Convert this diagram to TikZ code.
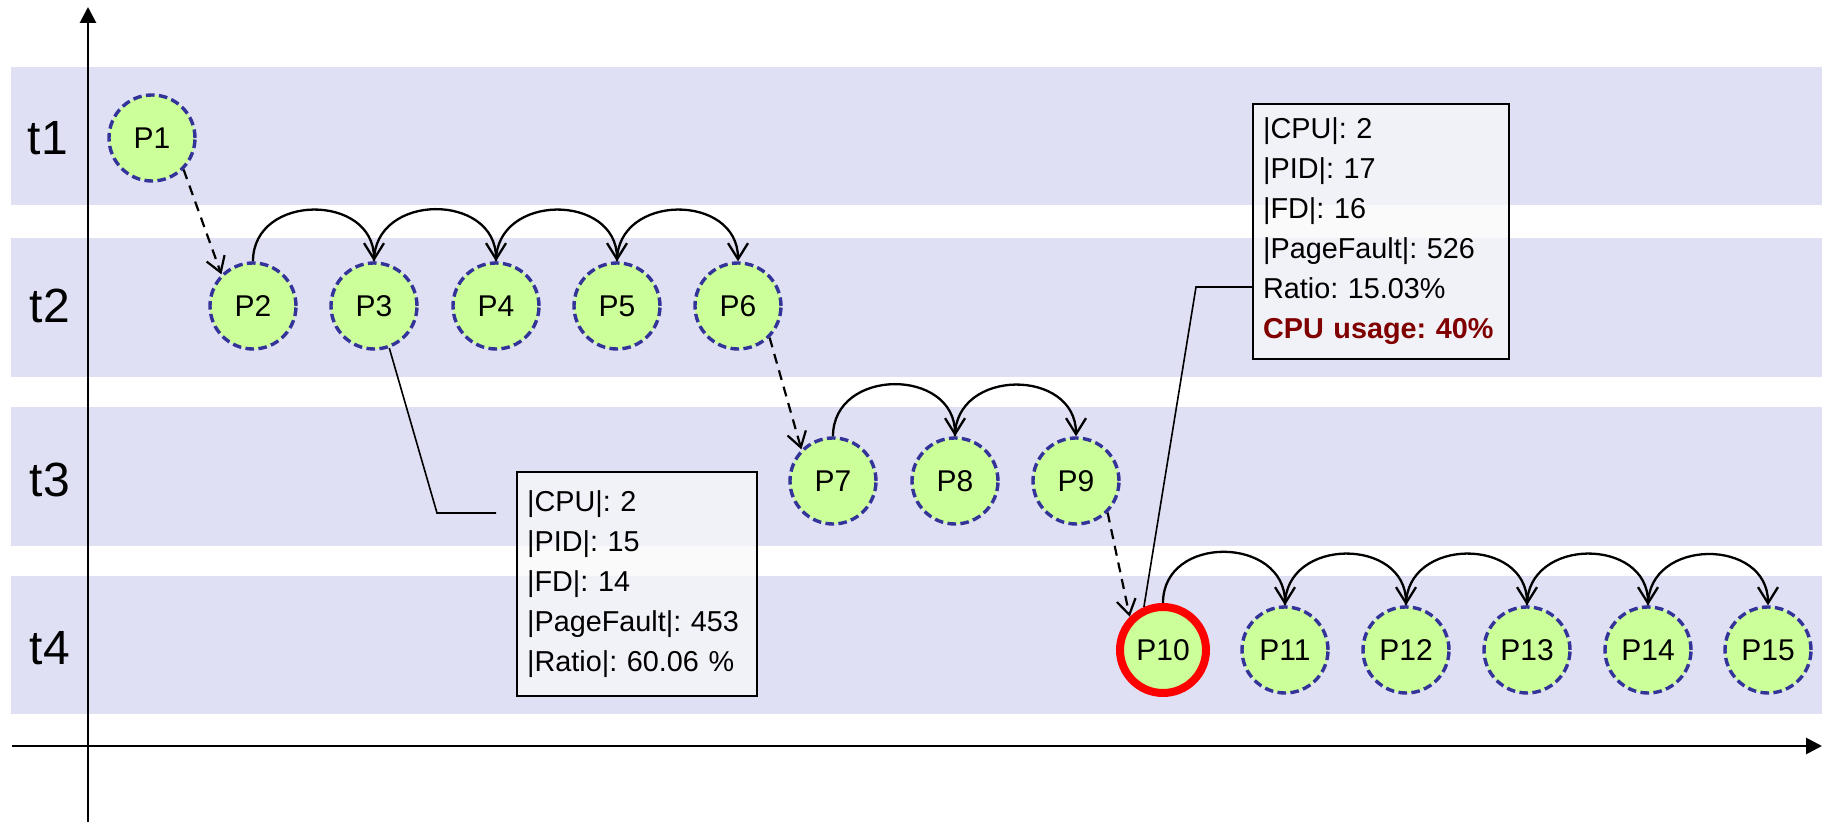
\documentclass[tikz,border=0pt]{standalone}
\usepackage{fontspec}
\setmainfont{Liberation Sans}
\usetikzlibrary{arrows.meta}
\frenchspacing

\definecolor{bandcol}{RGB}{223,224,244}
\definecolor{procfill}{RGB}{204,255,153}
\definecolor{procedge}{RGB}{51,51,153}
\definecolor{notefill}{RGB}{248,248,250}
\definecolor{alertred}{RGB}{128,0,0}

\begin{document}
\begin{tikzpicture}[x=0.5pt,y=0.5pt,
  proc/.style={circle, draw=procedge, fill=procfill, line width=1.7pt,
    dash pattern=on 4.3pt off 2.2pt, minimum size=43pt, inner sep=0pt,
    font=\fontsize{15}{18}\selectfont},
  hotproc/.style={circle, draw=red, fill=procfill, line width=4pt,
    minimum size=43pt, inner sep=0pt, font=\fontsize{15}{18}\selectfont},
  timelabel/.style={font=\fontsize{24}{28}\selectfont, inner sep=0pt},
  hop/.style={-{Straight Barb[length=8pt,width=10pt]}, line width=1.15pt,
    out=90, in=90, looseness=1.45},
  jump/.style={-{Straight Barb[length=7.5pt,width=9.5pt]}, line width=1.1pt,
    dash pattern=on 5pt off 3.5pt},
  callout/.style={line width=0.8pt},
  note/.style={rectangle, draw=black, line width=1.1pt, fill=notefill,
    fill opacity=0.75, text opacity=1, align=left, inner xsep=5pt,
    inner ysep=0pt, anchor=north west, font=\fontsize{14.4}{20}\selectfont},
  axis/.style={line width=1.4pt, -{Triangle[length=8pt,width=8pt]}}
]
\useasboundingbox (0,0) rectangle (1822,-822);

% time bands
\fill[bandcol] (11,-67)  rectangle (1822,-205);
\fill[bandcol] (11,-238) rectangle (1822,-377);
\fill[bandcol] (11,-407) rectangle (1822,-546);
\fill[bandcol] (11,-576) rectangle (1822,-714);

% axes
\coordinate (ybot) at (88,-822);
\coordinate (ytop) at (88,-7);
\coordinate (xleft) at (12,-746);
\coordinate (xright) at (1822,-746);
\draw[axis] (ybot) -- (ytop);
\draw[axis] (xleft) -- (xright);

% time labels
\node[timelabel] (t1) at (48,-138) {t1};
\node[timelabel] (t2) at (50,-306) {t2};
\node[timelabel] (t3) at (50,-480) {t3};
\node[timelabel] (t4) at (50,-648) {t4};

% processes
\node[proc] (P1) at (152,-138) {P1};

\node[proc] (P2) at (253,-306) {P2};
\node[proc] (P3) at (374,-306) {P3};
\node[proc] (P4) at (496,-306) {P4};
\node[proc] (P5) at (617,-306) {P5};
\node[proc] (P6) at (738,-306) {P6};

\node[proc] (P7) at (833,-481) {P7};
\node[proc] (P8) at (955,-481) {P8};
\node[proc] (P9) at (1076,-481) {P9};

\node[hotproc] (P10) at (1163,-650) {P10};
\node[proc] (P11) at (1285,-650) {P11};
\node[proc] (P12) at (1406,-650) {P12};
\node[proc] (P13) at (1527,-650) {P13};
\node[proc] (P14) at (1648,-650) {P14};
\node[proc] (P15) at (1768,-650) {P15};

% transitions between time slots
\draw[jump] (P1.south east) -- (P2.north west);
\draw[jump] (P6.south east) -- (P7.north west);
\draw[jump] (P9.south east) -- (P10.north west);

% hops within a time slot
\draw[hop] (P2.north) to (P3.north);
\draw[hop] (P3.north) to (P4.north);
\draw[hop] (P4.north) to (P5.north);
\draw[hop] (P5.north) to (P6.north);
\draw[hop] (P7.north) to (P8.north);
\draw[hop] (P8.north) to (P9.north);
\draw[hop] (P10.north) to (P11.north);
\draw[hop] (P11.north) to (P12.north);
\draw[hop] (P12.north) to (P13.north);
\draw[hop] (P13.north) to (P14.north);
\draw[hop] (P14.north) to (P15.north);

% detail notes
\node[note, text width=110pt, minimum height=112pt] (info3) at (516,-471)
  {|CPU|: 2\\|PID|: 15\\|FD|: 14\\|PageFault|: 453\\|Ratio|: 60.06 \%};
\node[note, text width=118pt, minimum height=127.5pt] (info10) at (1252,-103)
  {|CPU|: 2\\|PID|: 17\\|FD|: 16\\|PageFault|: 526\\Ratio: 15.03\%\\
   \textcolor{alertred}{\textbf{CPU usage: 40\%}}};

% callout leaders
\coordinate (k3) at (437,-513);
\coordinate (k3end) at (496,-513);
\draw[callout] (P3.-70) -- (k3) -- (k3end);
\coordinate (k10) at (1196,-287);
\draw[callout] (P10.114) -- (k10) -- (k10 -| info10.west);
\end{tikzpicture}
\end{document}
